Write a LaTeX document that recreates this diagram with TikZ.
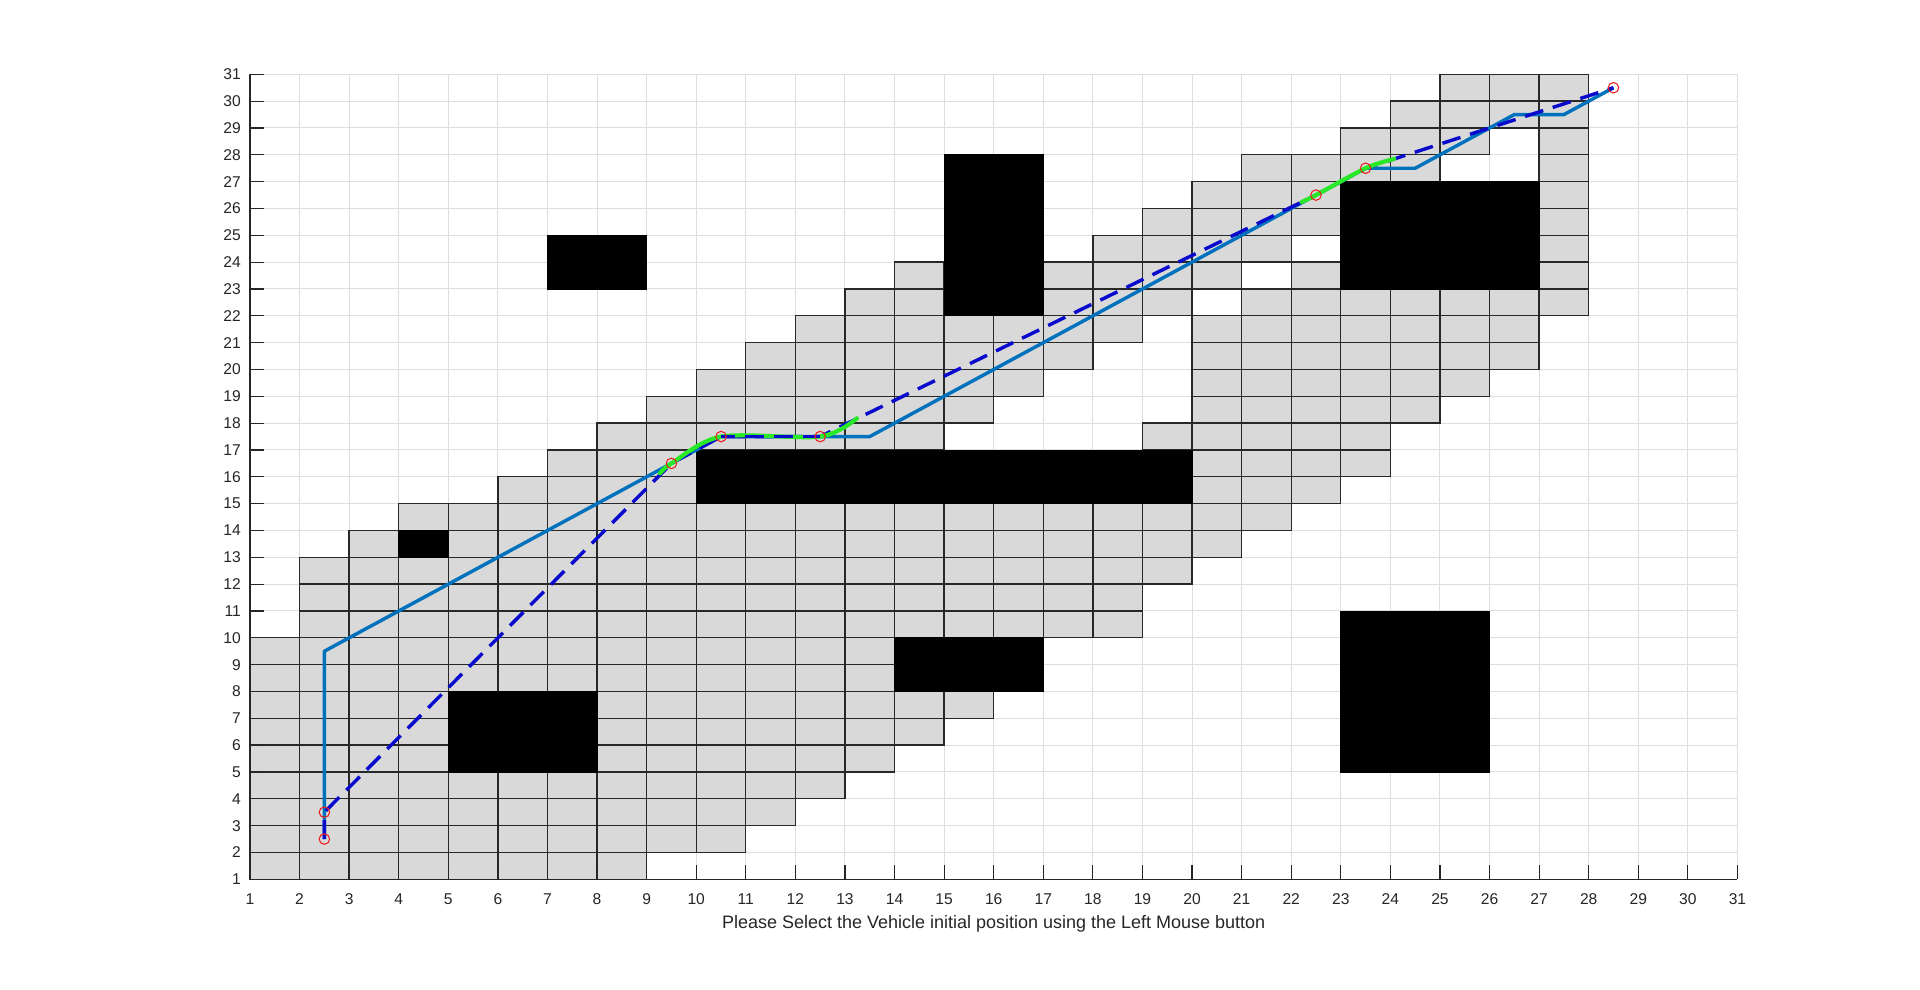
\documentclass[tikz,border=0pt]{standalone}
\usepackage{fontspec}
\setmainfont{Liberation Sans}
\definecolor{gridc}{RGB}{222,222,222}
\definecolor{cellfill}{RGB}{217,217,217}
\definecolor{cellline}{RGB}{40,40,40}
\definecolor{axisc}{RGB}{38,38,38}
\definecolor{mblue}{RGB}{0,114,189}
\definecolor{dblue}{RGB}{10,10,205}
\definecolor{mgreen}{RGB}{40,232,40}
\definecolor{mred}{RGB}{235,30,30}
\tikzset{
  gridline/.style={draw=gridc, line width=0.28pt},
  cellbox/.style={fill=cellfill, draw=cellline, line width=0.38pt},
  obstacle/.style={fill=black, draw=black, line width=0.2pt},
  axisline/.style={draw=axisc, line width=0.34pt},
  ticklab/.style={font=\fontsize{4.44}{5}\selectfont, text=axisc, inner sep=0pt},
  xlab/.style={font=\fontsize{5.12}{6}\selectfont, text=axisc, inner sep=0pt},
  solidpath/.style={draw=mblue, line width=0.98pt, line join=round},
  dashpath/.style={draw=dblue, line width=0.98pt, dash pattern=on 0.19cm off 0.10cm},
  greenpath/.style={draw=mgreen, line width=1.2pt, line cap=round},
  waypt/.style={circle, draw=mred, line width=0.3pt, minimum size=0.105cm, inner sep=0pt}
}
\begin{document}
\begin{tikzpicture}
\useasboundingbox (0,0) rectangle (19.2,9.89);
\fill[white] (0,0) rectangle (19.2,9.89);
\begin{scope}[x=0.4958cm, y=0.26833cm, shift={(2.0042cm,0.8287cm)}]
  % grid
  \foreach \i in {2,...,31} {
    \draw[gridline] (\i,1) -- (\i,31);
    \draw[gridline] (1,\i) -- (31,\i);
  }
  % explored cells (row / first cell / last cell)
  \foreach \r/\a/\b in {1/1/8, 2/1/10, 3/1/11, 4/1/12,
      5/1/4, 5/8/13, 6/1/4, 6/8/14, 7/1/4, 7/8/15,
      8/1/13, 9/1/13, 10/2/18, 11/2/18, 12/2/19,
      13/3/3, 13/5/20, 14/4/21,
      15/6/9, 15/20/22, 16/7/9, 16/20/23,
      17/8/14, 17/19/23, 18/9/15, 18/20/24,
      19/10/16, 19/20/25, 20/11/17, 20/20/26,
      21/12/18, 21/20/26,
      22/13/14, 22/17/19, 22/21/27,
      23/14/14, 23/17/20, 23/22/22, 23/27/27,
      24/18/21, 24/27/27, 25/19/22, 25/27/27,
      26/20/22, 26/27/27, 27/21/24, 27/27/27,
      28/23/25, 28/27/27, 29/24/27, 30/25/27} {
    \foreach \c in {\a,...,\b} {
      \draw[cellbox] (\c,\r) rectangle ++(1,1);
    }
  }
  % obstacles
  \draw[obstacle] (7,23) rectangle (9,25);
  \draw[obstacle] (15,22) rectangle (17,28);
  \draw[obstacle] (10,15) rectangle (20,17);
  \draw[obstacle] (4,13) rectangle (5,14);
  \draw[obstacle] (5,5) rectangle (8,8);
  \draw[obstacle] (14,8) rectangle (17,10);
  \draw[obstacle] (23,23) rectangle (27,27);
  \draw[obstacle] (23,5) rectangle (26,11);
  % waypoints
  \coordinate (w1) at (2.5,2.5);
  \coordinate (w2) at (2.5,3.5);
  \coordinate (w3) at (9.5,16.5);
  \coordinate (w4) at (10.5,17.5);
  \coordinate (w5) at (12.5,17.5);
  \coordinate (w6) at (22.5,26.5);
  \coordinate (w7) at (23.5,27.5);
  \coordinate (w8) at (28.5,30.5);
  % smoothed path (solid)
  \coordinate (s1) at (2.5,9.5);
  \coordinate (s2) at (13.5,17.5);
  \coordinate (s3) at (24.5,27.5);
  \coordinate (s4) at (26.5,29.5);
  \coordinate (s5) at (27.5,29.5);
  \draw[solidpath] (w1) -- (s1) -- (w4) -- (s2) -- (w7) -- (s3) -- (s4) -- (s5) -- (w8);
  % dashed path
  \draw[dashpath] (w1) -- (w2) -- (w3) -- (w4) -- (w5) -- (w6) -- (w7) -- (w8);
  % green transitions
  \draw[greenpath] plot[smooth, tension=0.5] coordinates {(9.27,16.13) (9.5,16.5) (10.5,17.5) (12.5,17.5) (13.24,18.18)};
  \draw[greenpath] plot[smooth, tension=0.5] coordinates {(22.21,26.24) (22.5,26.5) (23.5,27.5) (24.08,27.85)};
  \draw[dashpath, dash phase=0.05cm] (w4) -- (w5);
  % markers
  \foreach \k in {1,...,8} { \node[waypt] (m\k) at (w\k) {}; }
  % axes
  \draw[axisline] (1,31) -- (1,1) -- (31,1);
  \foreach \i in {1,...,31} {
    \draw[axisline] (\i,1) -- ++(0,0.52);
    \draw[axisline] (1,\i) -- ++(0.282,0);
    \node[ticklab, anchor=base] (xt\i) at (\i,0.0795) {\i};
    \node[ticklab, anchor=east] (yt\i) at (0.8286,\i) {\i};
  }
  \node[xlab, anchor=base] (xlabel) at (16,-0.834) {Please Select the Vehicle initial position using the Left Mouse button};
\end{scope}
\end{tikzpicture}
\end{document}
